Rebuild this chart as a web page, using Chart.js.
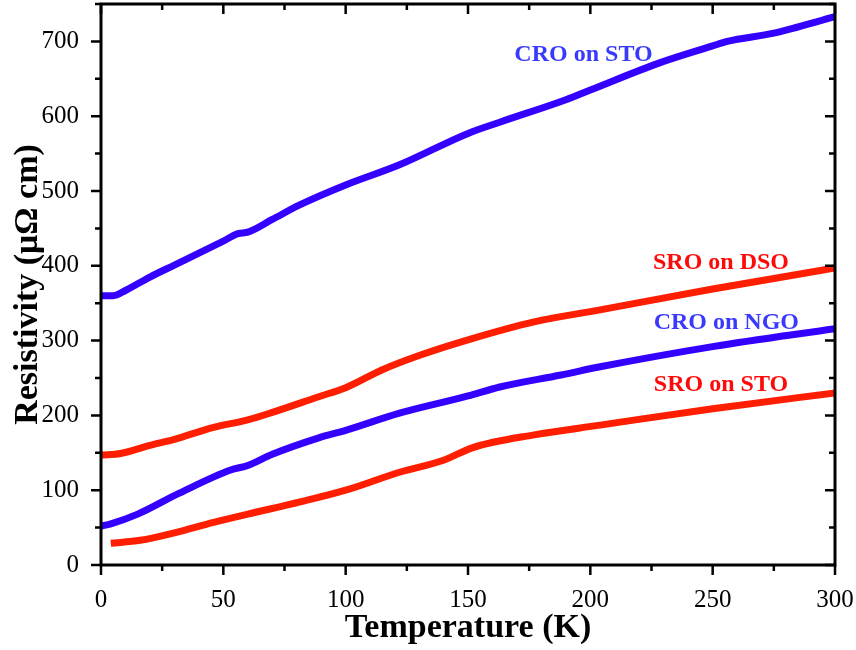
<!DOCTYPE html>
<html>
<head>
<meta charset="utf-8">
<script src="https://cdn.jsdelivr.net/npm/chart.js@4.4.1/dist/chart.umd.min.js"></script>
<style>
  html, body { margin: 0; padding: 0; background: #ffffff; }
  #wrap { width: 856px; height: 650px; }
</style>
</head>
<body>
<div id="wrap"><canvas id="c" width="856" height="650"></canvas></div>
<script>
// ---- data ----
const croStoT = [0, 5, 10, 20, 30, 40, 50, 56, 60, 70, 81, 100, 122, 150, 163, 190, 200, 228, 250, 256, 275, 300];
const croStoV = [360, 360, 367, 385, 401, 417, 433, 443, 445, 462, 481, 508, 535, 577, 592, 622, 635, 671, 694, 700, 711, 733];

const sroDsoT = [0, 8, 20, 30, 46, 60, 70, 89, 100, 115, 130, 150, 177, 204, 250, 300];
const sroDsoV = [147, 149, 160, 168, 184, 194, 204, 225, 237, 261, 280, 301, 325, 341, 369, 397];

const croNgoT = [0, 4, 15, 32, 53, 60, 70, 89, 100, 122, 150, 163, 188, 204, 250, 300];
const croNgoV = [52, 55, 68, 96, 127, 133, 148, 170, 180, 203, 226, 238, 254, 265, 292, 316];

const sroStoT = [4, 16, 30, 46, 60, 81, 100, 122, 140, 152, 177, 204, 250, 300];
const sroStoV = [29, 33, 43, 57, 68, 84, 100, 124, 140, 157, 174, 187, 209, 230];

const seriesNames = ['CRO on STO', 'SRO on DSO', 'CRO on NGO', 'SRO on STO'];
const xTickLabels = [0, 50, 100, 150, 200, 250, 300];
const yTickLabels = [0, 100, 200, 300, 400, 500, 600, 700];

// ---- styling ----
const BLUE = 'rgb(52,0,255)';
const RED = 'rgb(255,30,0)';
const BLUE_TXT = 'rgb(58,58,255)';
const RED_TXT = 'rgb(255,10,10)';
const SERIF = '"Liberation Serif", "Times New Roman", serif';

function pts(t, v) { return t.map((x, i) => ({ x: x, y: v[i] })); }

// label anchor points (data coords) for the in-plot series names
const seriesLabelAt = [
  { x: 197.2, y: 684, color: BLUE_TXT },
  { x: 253.4, y: 405, color: RED_TXT },
  { x: 255.6, y: 325, color: BLUE_TXT },
  { x: 253.4, y: 242, color: RED_TXT }
];

const frameAndTicks = {
  id: 'frameAndTicks',
  afterDatasetsDraw(chart) {
    const ctx = chart.ctx;
    const xs = chart.scales.x, ys = chart.scales.y;
    const a = chart.chartArea;
    ctx.save();
    ctx.strokeStyle = '#000';
    ctx.lineWidth = 3;
    ctx.lineCap = 'butt';
    ctx.strokeRect(a.left, a.top, a.right - a.left, a.bottom - a.top);
    ctx.lineWidth = 2.5;
    for (let t = xs.min; t <= xs.max + 1e-6; t += 25) {
      const px = xs.getPixelForValue(t);
      const L = (t % 50 === 0) ? 10 : 6;
      ctx.beginPath();
      ctx.moveTo(px, a.bottom); ctx.lineTo(px, a.bottom + L);
      ctx.moveTo(px, a.top); ctx.lineTo(px, a.top + L);
      ctx.stroke();
    }
    for (let v = ys.min; v <= ys.max + 1e-6; v += 50) {
      const py = ys.getPixelForValue(v);
      const L = (v % 100 === 0) ? 10 : 6;
      ctx.beginPath();
      ctx.moveTo(a.left, py); ctx.lineTo(a.left - L, py);
      ctx.moveTo(a.right, py); ctx.lineTo(a.right - L, py);
      ctx.stroke();
    }
    ctx.font = 'bold 24px ' + SERIF;
    ctx.textAlign = 'center';
    ctx.textBaseline = 'middle';
    seriesLabelAt.forEach((p, i) => {
      ctx.fillStyle = p.color;
      ctx.fillText(seriesNames[i], xs.getPixelForValue(p.x), ys.getPixelForValue(p.y) + 1);
    });
    ctx.restore();
  }
};

const mk = (label, t, v, col) => ({
  label: label,
  data: pts(t, v),
  borderColor: col,
  backgroundColor: col,
  borderWidth: 7,
  pointRadius: 0,
  fill: false,
  cubicInterpolationMode: 'monotone',
  borderCapStyle: 'butt'
});

new Chart(document.getElementById('c'), {
  type: 'line',
  data: {
    datasets: [
      mk(seriesNames[0], croStoT, croStoV, BLUE),
      mk(seriesNames[1], sroDsoT, sroDsoV, RED),
      mk(seriesNames[2], croNgoT, croNgoV, BLUE),
      mk(seriesNames[3], sroStoT, sroStoV, RED)
    ]
  },
  options: {
    responsive: false,
    animation: false,
    devicePixelRatio: 1,
    layout: { padding: { top: 4, right: 21, left: 0, bottom: 0 } },
    plugins: { legend: { display: false }, tooltip: { enabled: false } },
    scales: {
      x: {
        type: 'linear',
        min: 0, max: 300,
        afterFit(s) { s.height = 85; s.paddingLeft = 0; s.paddingRight = 0; },
        afterBuildTicks(s) { s.ticks = xTickLabels.map(v => ({ value: v })); },
        grid: { display: false },
        border: { display: false },
        ticks: {
          color: '#000',
          padding: 12,
          maxRotation: 0,
          font: { family: SERIF, size: 25 }
        },
        title: {
          display: true,
          text: 'Temperature (K)',
          color: '#000',
          padding: { top: 0, bottom: 1 },
          font: { family: SERIF, size: 34, weight: 'bold' }
        }
      },
      y: {
        type: 'linear',
        min: 0, max: 750,
        afterFit(s) { s.width = 101; s.paddingTop = 0; s.paddingBottom = 0; },
        afterBuildTicks(s) { s.ticks = yTickLabels.map(v => ({ value: v })); },
        grid: { display: false },
        border: { display: false },
        ticks: {
          color: '#000',
          padding: 14,
          font: { family: SERIF, size: 25 }
        },
        title: {
          display: true,
          text: 'Resistivity (μΩ cm)',
          color: '#000',
          padding: { top: 8, bottom: 0 },
          font: { family: SERIF, size: 34, weight: 'bold' }
        }
      }
    }
  },
  plugins: [frameAndTicks]
});
</script>
</body>
</html>
